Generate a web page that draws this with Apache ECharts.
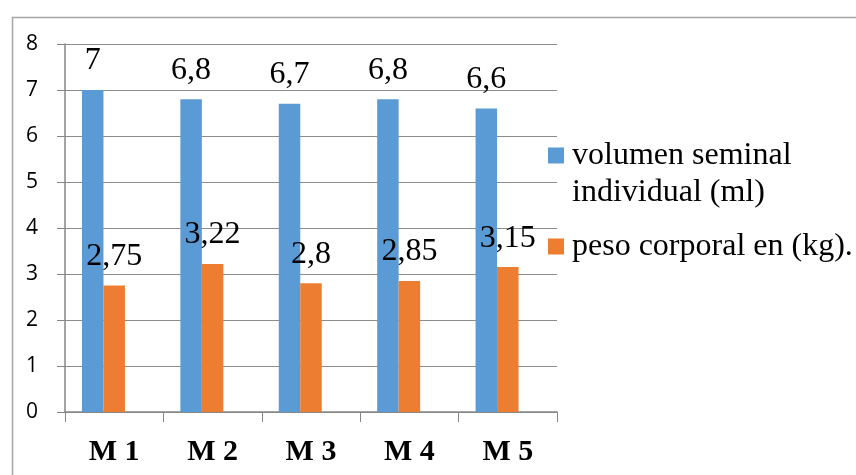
<!DOCTYPE html>
<html>
<head>
<meta charset="utf-8">
<script src="https://cdn.jsdelivr.net/npm/echarts@6/dist/echarts.min.js"></script>
<style>
  html, body { margin: 0; padding: 0; background: #ffffff; }
  #chart { width: 856px; height: 475px; }
</style>
</head>
<body>
<div id="chart"></div>
<script>
// Categories and the two measured series
const categories = ['M 1', 'M 2', 'M 3', 'M 4', 'M 5'];
const volumenSeminal = [7, 6.8, 6.7, 6.8, 6.6];
const pesoCorporal = [2.75, 3.22, 2.8, 2.85, 3.15];
// An empty third slot keeps the bar pair off-centre in each category
const reservedSlot = [null, null, null, null, null];
const seriesNames = ['volumen seminal individual (ml)', 'peso corporal en (kg).'];
// Legend text, wrapped; the leading blank line keeps the marker level with the first line
const legendText = {
  'volumen seminal individual (ml)': '\nvolumen seminal\nindividual (ml)',
  'peso corporal en (kg).': 'peso corporal en (kg).'
};

const serif = '"Liberation Serif", "Times New Roman", serif';
const sans = '"Open Sans", Lato, sans-serif';
const fmtComma = p => String(p.value).replace('.', ',');

const valueLabel = {
  show: true,
  position: 'top',
  distance: 13,
  fontFamily: serif,
  fontSize: 32,
  color: '#000000',
  formatter: fmtComma
};

const chart = echarts.init(document.getElementById('chart'), null, { renderer: 'canvas' });

chart.setOption({
  animation: false,
  backgroundColor: '#ffffff',
  graphic: [{
    type: 'rect',
    left: 10,
    top: 15,
    z: -10,
    shape: { width: 900, height: 500 },
    style: { fill: 'none', stroke: '#a6a6a6', lineWidth: 1.5 }
  }],
  grid: { left: 65, right: 299, top: 44, bottom: 63, containLabel: false },
  legend: {
    orient: 'vertical',
    left: 548,
    top: 100,
    padding: 0,
    itemGap: 17,
    itemWidth: 16,
    itemHeight: 16,
    icon: 'rect',
    formatter: name => legendText[name],
    textStyle: { fontFamily: serif, fontSize: 32, lineHeight: 37, color: '#000000', padding: [0, 0, 0, 3] },
    data: seriesNames
  },
  xAxis: {
    type: 'category',
    data: categories,
    boundaryGap: true,
    axisLine: { show: true, lineStyle: { color: '#868686', width: 1.5 } },
    axisTick: { show: true, length: 10, inside: false, lineStyle: { color: '#868686', width: 1 } },
    axisLabel: {
      margin: 25,
      fontFamily: serif,
      fontWeight: 'bold',
      fontSize: 30,
      color: '#000000'
    },
    splitLine: { show: false }
  },
  yAxis: {
    type: 'value',
    min: 0,
    max: 8,
    interval: 1,
    axisLine: { show: true, lineStyle: { color: '#868686', width: 1.5 } },
    axisTick: { show: true, length: 8, inside: false, lineStyle: { color: '#868686', width: 1 } },
    axisLabel: {
      show: true,
      margin: 27,
      fontFamily: sans,
      fontSize: 21,
      color: '#000000'
    },
    splitLine: { show: true, lineStyle: { color: '#8c8c8c', width: 1 } }
  },
  series: [
    {
      name: seriesNames[0],
      type: 'bar',
      data: volumenSeminal,
      barGap: '0%',
      barCategoryGap: '34.5%',
      itemStyle: { color: '#5B9BD5' },
      label: valueLabel
    },
    {
      name: seriesNames[1],
      type: 'bar',
      data: pesoCorporal,
      barGap: '0%',
      barCategoryGap: '34.5%',
      itemStyle: { color: '#ED7D31' },
      label: valueLabel
    },
    {
      name: 'reserved',
      type: 'bar',
      data: reservedSlot,
      barGap: '0%',
      barCategoryGap: '34.5%',
      itemStyle: { color: 'transparent' }
    }
  ]
});
</script>
</body>
</html>
